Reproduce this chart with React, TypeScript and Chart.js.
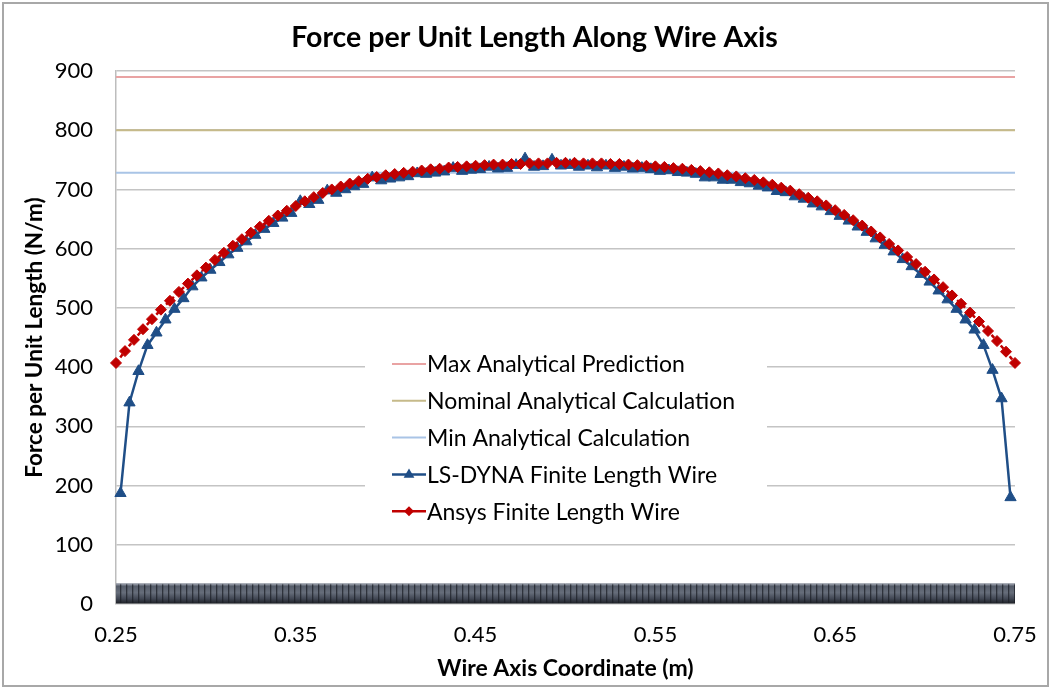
import React, { useEffect, useRef } from 'react';
import { Chart, registerables } from 'chart.js';

Chart.register(...registerables);

const TITLE = 'Force per Unit Length Along Wire Axis';
const X_TITLE = 'Wire Axis Coordinate (m)';
const Y_TITLE = 'Force per Unit Length (N/m)';
const X_TICKS = [0.25, 0.35, 0.45, 0.55, 0.65, 0.75];
const X_MIN = 0.25;
const X_MAX = 0.75;
const Y_MIN = 0;
const Y_MAX = 900;
const Y_STEP = 100;

const REF_X = [0.25, 0.75];
const MAX_PRED = [890, 890];
const NOMINAL_CALC = [800, 800];
const MIN_CALC = [728, 728];

const WIRE_X = [0.25, 0.75];
const WIRE_TOP = [34, 34];
const WIRE_BOTTOM = 1;

const ANSYS_X = [
  0.25, 0.255, 0.26, 0.265, 0.27, 0.275, 0.28, 0.285, 0.29, 0.295,
  0.3, 0.305, 0.31, 0.315, 0.32, 0.325, 0.33, 0.335, 0.34, 0.345,
  0.35, 0.355, 0.36, 0.365, 0.37, 0.375, 0.38, 0.385, 0.39, 0.395,
  0.4, 0.405, 0.41, 0.415, 0.42, 0.425, 0.43, 0.435, 0.44, 0.445,
  0.45, 0.455, 0.46, 0.465, 0.47, 0.475, 0.48, 0.485, 0.49, 0.495,
  0.5, 0.505, 0.51, 0.515, 0.52, 0.525, 0.53, 0.535, 0.54, 0.545,
  0.55, 0.555, 0.56, 0.565, 0.57, 0.575, 0.58, 0.585, 0.59, 0.595,
  0.6, 0.605, 0.61, 0.615, 0.62, 0.625, 0.63, 0.635, 0.64, 0.645,
  0.65, 0.655, 0.66, 0.665, 0.67, 0.675, 0.68, 0.685, 0.69, 0.695,
  0.7, 0.705, 0.71, 0.715, 0.72, 0.725, 0.73, 0.735, 0.74, 0.745,
  0.75,
];
const ANSYS_Y = [
  407, 427, 446, 464, 481, 497, 512, 527, 541, 555,
  568, 581, 593, 605, 616, 627, 637, 647, 656, 664,
  672, 680, 687, 694, 700, 705, 710, 714, 718, 721,
  724, 726, 728, 730, 732, 734, 735, 737, 738, 739,
  740, 741, 742, 742, 743, 743, 744, 744, 744, 745,
  745, 745, 744, 744, 744, 743, 743, 742, 741, 740,
  739, 738, 736, 735, 733, 731, 729, 727, 724, 722,
  719, 716, 712, 708, 703, 698, 692, 686, 680, 673,
  665, 657, 648, 639, 629, 619, 608, 597, 586, 574,
  561, 548, 535, 521, 507, 492, 477, 461, 444, 426,
  407,
];

const LSDYNA_X = [
  0.2525, 0.2575, 0.2625, 0.2675, 0.2725, 0.2775, 0.2825, 0.2875, 0.2925, 0.2975,
  0.3025, 0.3075, 0.3125, 0.3175, 0.3225, 0.3275, 0.3325, 0.3375, 0.3425, 0.3475,
  0.3525, 0.3575, 0.3625, 0.3675, 0.3725, 0.3775, 0.3825, 0.3875, 0.3925, 0.3975,
  0.4025, 0.4075, 0.4125, 0.4175, 0.4225, 0.4275, 0.4325, 0.4375, 0.4425, 0.4475,
  0.4525, 0.4575, 0.4625, 0.4675, 0.4725, 0.4775, 0.4825, 0.4875, 0.4925, 0.4975,
  0.5025, 0.5075, 0.5125, 0.5175, 0.5225, 0.5275, 0.5325, 0.5375, 0.5425, 0.5475,
  0.5525, 0.5575, 0.5625, 0.5675, 0.5725, 0.5775, 0.5825, 0.5875, 0.5925, 0.5975,
  0.6025, 0.6075, 0.6125, 0.6175, 0.6225, 0.6275, 0.6325, 0.6375, 0.6425, 0.6475,
  0.6525, 0.6575, 0.6625, 0.6675, 0.6725, 0.6775, 0.6825, 0.6875, 0.6925, 0.6975,
  0.7025, 0.7075, 0.7125, 0.7175, 0.7225, 0.7275, 0.7325, 0.7375, 0.7425, 0.7475,
];
const LSDYNA_Y = [
  187, 340, 393, 437, 458, 480, 498, 516, 536, 551,
  564, 577, 590, 601, 612, 623, 633, 643, 652, 660,
  680, 675, 682, 698, 694, 700, 705, 709, 720, 715,
  718, 720, 722, 727, 726, 728, 730, 736, 731, 733,
  734, 738, 735, 736, 741, 752, 738, 739, 750, 740,
  741, 738, 740, 737, 740, 736, 738, 735, 736, 734,
  731, 732, 729, 728, 726, 720, 720, 716, 716, 712,
  710, 706, 703, 697, 695, 688, 684, 676, 671, 663,
  655, 647, 637, 628, 617, 606, 595, 582, 570, 557,
  544, 529, 514, 498, 480, 463, 437, 395, 347, 180,
];

const FONT = 'Lato';
const RED = '#C00000';
const BLUE = '#1F4E87';

const pts = (xs: number[], ys: number[]) => xs.map((x, i) => ({ x, y: ys[i] }));

function wirePattern(ctx: CanvasRenderingContext2D, yTop: number, yBot: number) {
  const c = document.createElement('canvas');
  c.width = 6;
  c.height = Math.ceil(yBot) + 4;
  const g = c.getContext('2d')!;
  const grad = g.createLinearGradient(0, yTop, 0, yBot);
  grad.addColorStop(0, '#9aa0ab');
  grad.addColorStop(0.12, '#555c69');
  grad.addColorStop(0.45, '#666d7a');
  grad.addColorStop(0.75, '#424855');
  grad.addColorStop(1, '#1f2228');
  g.fillStyle = grad;
  g.fillRect(0, 0, c.width, c.height);
  g.fillStyle = 'rgba(25,28,36,0.7)';
  g.fillRect(0, 0, 1.3, c.height);
  return ctx.createPattern(c, 'repeat-x') || '#4a4f5a';
}

const frameAndLegend = {
  id: 'frameAndLegend',
  beforeDatasetsDraw(chart: any) {
    const { ctx, chartArea } = chart;
    const bx = chartArea.left + 249;
    const by = chartArea.top + 269;
    ctx.save();
    ctx.fillStyle = '#ffffff';
    ctx.fillRect(bx, by, 402, 190);
    ctx.font = `23px ${FONT}`;
    ctx.textBaseline = 'middle';
    const items = chart.data.datasets.filter((d: any) => !d.noLegend);
    items.forEach((ds: any, i: number) => {
      const y = by + 24 + i * 36.8;
      const x0 = bx + 27;
      const x1 = bx + 61;
      const xm = (x0 + x1) / 2;
      ctx.strokeStyle = ds.borderColor;
      ctx.lineWidth = ds.borderWidth;
      ctx.setLineDash([]);
      ctx.beginPath();
      ctx.moveTo(x0, y);
      ctx.lineTo(x1, y);
      ctx.stroke();
      if (ds.pointStyle === 'triangle') {
        const r = 6;
        ctx.fillStyle = ds.pointBackgroundColor;
        ctx.beginPath();
        ctx.moveTo(xm, y - r);
        ctx.lineTo(xm + r * 0.9, y + r * 0.55);
        ctx.lineTo(xm - r * 0.9, y + r * 0.55);
        ctx.closePath();
        ctx.fill();
      } else if (ds.pointStyle === 'rectRot') {
        const r = 5;
        ctx.fillStyle = ds.pointBackgroundColor;
        ctx.beginPath();
        ctx.moveTo(xm, y - r);
        ctx.lineTo(xm + r, y);
        ctx.lineTo(xm, y + r);
        ctx.lineTo(xm - r, y);
        ctx.closePath();
        ctx.fill();
      }
      ctx.fillStyle = '#000';
      ctx.fillText(ds.label, bx + 62, y + 1);
    });
    ctx.restore();
  },
  afterDraw(chart: any) {
    const { ctx, width, height } = chart;
    ctx.save();
    ctx.fillStyle = '#000';
    ctx.font = `bold 28.5px ${FONT}`;
    ctx.textAlign = 'center';
    ctx.textBaseline = 'middle';
    ctx.fillText(TITLE, width / 2 + 9, 38);
    ctx.strokeStyle = '#a8a8a8';
    ctx.lineWidth = 2;
    ctx.strokeRect(3, 3, width - 6, height - 5);
    ctx.restore();
  },
};

export default function App() {
  const ref = useRef<HTMLCanvasElement | null>(null);

  useEffect(() => {
    if (!ref.current) return;
    const chart = new Chart(ref.current, {
      type: 'line',
      data: {
        datasets: [
          {
            label: 'Max Analytical Prediction',
            data: pts(REF_X, MAX_PRED),
            borderColor: '#E9A3A3',
            borderWidth: 2,
            pointRadius: 0,
            order: 2,
          },
          {
            label: 'Nominal Analytical Calculation',
            data: pts(REF_X, NOMINAL_CALC),
            borderColor: '#C6BA8A',
            borderWidth: 2,
            pointRadius: 0,
            order: 2,
          },
          {
            label: 'Min Analytical Calculation',
            data: pts(REF_X, MIN_CALC),
            borderColor: '#A9C4E6',
            borderWidth: 2,
            pointRadius: 0,
            order: 2,
          },
          {
            label: 'LS-DYNA Finite Length Wire',
            data: pts(LSDYNA_X, LSDYNA_Y),
            borderColor: BLUE,
            backgroundColor: BLUE,
            pointBackgroundColor: BLUE,
            pointBorderColor: BLUE,
            borderWidth: 2.5,
            pointStyle: 'triangle',
            pointRadius: 6.5,
            pointBorderWidth: 1,
            clip: false,
            order: 1,
          },
          {
            label: 'Ansys Finite Length Wire',
            data: pts(ANSYS_X, ANSYS_Y),
            borderColor: RED,
            backgroundColor: RED,
            pointBackgroundColor: RED,
            pointBorderColor: RED,
            borderWidth: 2.5,
            borderDash: [4, 3],
            pointStyle: 'rectRot',
            pointRadius: 5.5,
            pointBorderWidth: 1,
            clip: false,
            order: 0,
          },
          {
            label: 'Wire',
            noLegend: true,
            data: pts(WIRE_X, WIRE_TOP),
            borderColor: '#8a909c',
            borderWidth: 1,
            pointRadius: 0,
            fill: { value: WIRE_BOTTOM },
            backgroundColor: (c: any) => {
              const ch = c.chart;
              if (!ch.chartArea || !ch.scales || !ch.scales.y) return '#4a4f5a';
              return wirePattern(
                ch.ctx,
                ch.scales.y.getPixelForValue(WIRE_TOP[0]),
                ch.scales.y.getPixelForValue(WIRE_BOTTOM)
              );
            },
            order: 3,
          } as any,
        ],
      },
      options: {
        animation: false,
        responsive: false,
        layout: { padding: { left: 0, right: 36, top: 71, bottom: 0 } },
        plugins: {
          legend: { display: false },
          tooltip: { enabled: false },
          title: { display: false },
        },
        scales: {
          x: {
            type: 'linear',
            min: X_MIN,
            max: X_MAX,
            afterBuildTicks: (s: any) => {
              s.ticks = X_TICKS.map((v) => ({ value: v }));
            },
            afterFit: (s: any) => {
              s.height = 84;
              s.paddingLeft = 0;
              s.paddingRight = 0;
            },
            ticks: {
              color: '#000',
              font: { family: FONT, size: 22 },
              padding: 18,
              maxRotation: 0,
              callback: (v: any) => Number(v).toFixed(2),
            },
            grid: { display: false, drawTicks: false },
            border: { display: false },
            title: {
              display: true,
              text: X_TITLE,
              color: '#000',
              font: { family: FONT, size: 23, weight: 'bold' },
              padding: { top: 0, bottom: 6 },
            },
          },
          y: {
            min: Y_MIN,
            max: Y_MAX,
            afterFit: (s: any) => {
              s.width = 116;
              s.paddingTop = 0;
              s.paddingBottom = 0;
            },
            ticks: {
              stepSize: Y_STEP,
              color: '#000',
              font: { family: FONT, size: 22 },
              padding: 23,
            },
            grid: { color: '#c4c4c4', lineWidth: 1.5, drawTicks: false },
            border: { display: true, color: '#bdbdbd', width: 1.5 },
            title: {
              display: true,
              text: Y_TITLE,
              color: '#000',
              font: { family: FONT, size: 22.5, weight: 'bold' },
              padding: { top: 21.5, bottom: 0 },
            },
          },
        },
      } as any,
      plugins: [frameAndLegend],
    });
    if ((document as any).fonts) {
      Promise.all([
        (document as any).fonts.load(`21px ${FONT}`),
        (document as any).fonts.load(`bold 24px ${FONT}`),
      ]).then(() => chart.update()).catch(() => {});
    }
    return () => chart.destroy();
  }, []);

  return (
    <div style={{ position: 'absolute', left: 0, top: 0, width: 1051, height: 688, background: '#fff' }}>
      <canvas ref={ref} width={1051} height={688} />
    </div>
  );
}
